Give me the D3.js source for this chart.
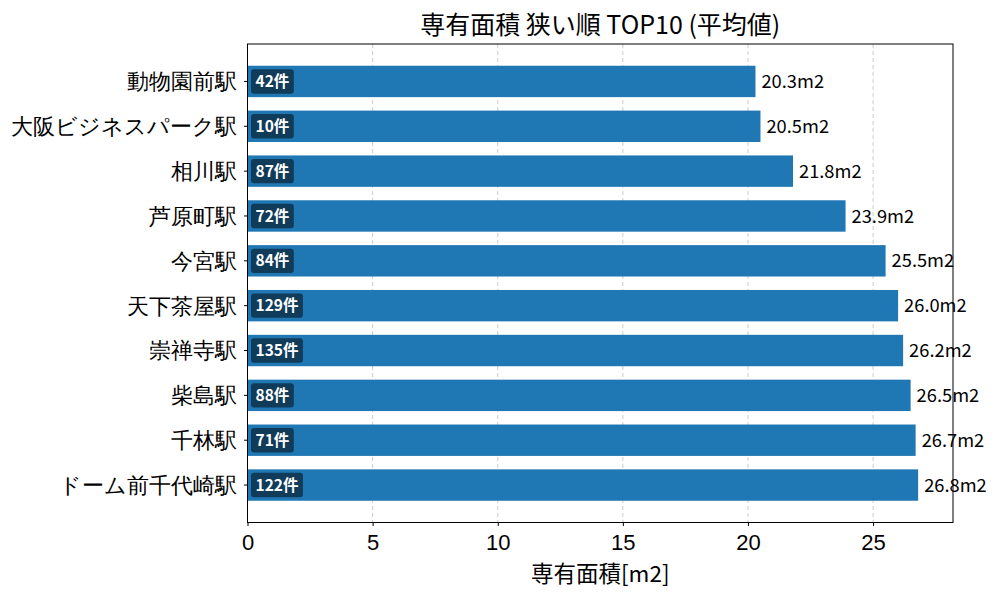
<!DOCTYPE html>
<html>
<head>
<meta charset="utf-8">
<script src="https://cdn.jsdelivr.net/npm/d3@7"></script>
<style>
  body { margin: 0; background: #fff; }
  svg { font-family: "Noto Sans CJK JP", "Noto Sans", sans-serif; }
  .grid line { stroke: #cccccc; stroke-dasharray: 4,3; stroke-width: 1; }
  .axis path, .axis line { stroke: #000; }
  .axis text { fill: #000; }
</style>
</head>
<body>
<svg width="1000" height="600"></svg>
<script>
"use strict";

const stations = ["動物園前駅", "大阪ビジネスパーク駅", "相川駅", "芦原町駅", "今宮駅",
                  "天下茶屋駅", "崇禅寺駅", "柴島駅", "千林駅", "ドーム前千代崎駅"];
const areas = [20.3, 20.5, 21.8, 23.9, 25.5, 26.0, 26.2, 26.5, 26.7, 26.8];
const counts = [42, 10, 87, 72, 84, 129, 135, 88, 71, 122];
const xTicks = [0, 5, 10, 15, 20, 25];

const titleText = "専有面積 狭い順 TOP10 (平均値)";
const xAxisTitle = "専有面積[m2]";

const margins = {top: 44, right: 47, bottom: 77.5, left: 247.5};
const width = 1000 - margins.left - margins.right;
const height = 600 - margins.top - margins.bottom;

const data = stations.map((name, i) => ({name, area: areas[i], count: counts[i]}));

const svg = d3.select("svg")
  .append("g")
  .attr("transform", `translate(${margins.left}, ${margins.top})`);

const xScale = d3.scaleLinear()
  .domain([0, d3.max(areas) * 1.052])
  .range([0, width]);

const yScale = d3.scaleBand()
  .domain(stations)
  .range([0, height])
  .paddingInner(0.3)
  .paddingOuter(0.485);

// grid (behind bars)
svg.append("g")
  .attr("class", "grid")
  .selectAll("line")
  .data(xTicks.slice(1))
  .join("line")
  .attr("x1", x => xScale(x))
  .attr("x2", x => xScale(x))
  .attr("y1", 0)
  .attr("y2", height);

// bars
svg.append("g")
  .selectAll("rect")
  .data(data)
  .join("rect")
  .attr("x", 0)
  .attr("y", d => yScale(d.name))
  .attr("width", d => xScale(d.area))
  .attr("height", yScale.bandwidth())
  .attr("fill", "#1f77b4");

// value labels
svg.append("g")
  .selectAll("text")
  .data(data)
  .join("text")
  .attr("x", d => xScale(d.area) + 6)
  .attr("y", d => yScale(d.name) + yScale.bandwidth() / 2)
  .attr("dy", "0.36em")
  .attr("font-size", 18.3)
  .attr("fill", "#000")
  .text(d => `${d.area.toFixed(1)}m2`);

// count badges
const badges = svg.append("g")
  .selectAll("g")
  .data(data)
  .join("g")
  .attr("transform", d => `translate(3.5, ${yScale(d.name) + yScale.bandwidth() / 2})`);

badges.append("text")
  .attr("x", 4.5)
  .attr("dy", "0.36em")
  .attr("font-size", 15.5)
  .attr("font-weight", "bold")
  .attr("fill", "#fff")
  .text(d => `${d.count}件`);

badges.each(function () {
  const g = d3.select(this);
  const bbox = g.select("text").node().getBBox();
  g.insert("rect", "text")
    .attr("x", 0)
    .attr("y", -12.2)
    .attr("width", bbox.width + 9)
    .attr("height", 24.4)
    .attr("rx", 3)
    .attr("ry", 3)
    .attr("fill", "#103c5a");
});

// axes
const xAxis = svg.append("g")
  .attr("class", "axis")
  .attr("transform", `translate(0, ${height})`)
  .call(d3.axisBottom(xScale)
          .tickValues(xTicks)
          .tickFormat(d3.format("d"))
          .tickSize(3.5)
          .tickPadding(4)
          .tickSizeOuter(0));
xAxis.selectAll("text").attr("font-size", 22).attr("dy", "0.9em");
xAxis.select(".domain").remove();

const yAxis = svg.append("g")
  .attr("class", "axis")
  .call(d3.axisLeft(yScale)
          .tickSize(3.5)
          .tickPadding(7)
          .tickSizeOuter(0));
yAxis.selectAll("text").attr("font-size", 21.8).attr("dy", "0.36em");
yAxis.select(".domain").remove();

// frame
svg.append("rect")
  .attr("x", 0)
  .attr("y", 0)
  .attr("width", width)
  .attr("height", height)
  .attr("fill", "none")
  .attr("stroke", "#000")
  .attr("stroke-width", 1);

// titles
svg.append("text")
  .attr("x", width / 2)
  .attr("y", -10)
  .attr("text-anchor", "middle")
  .attr("font-size", 25)
  .attr("fill", "#000")
  .text(titleText);

svg.append("text")
  .attr("x", width / 2)
  .attr("y", height + 59)
  .attr("text-anchor", "middle")
  .attr("font-size", 22.5)
  .attr("fill", "#000")
  .text(xAxisTitle);
</script>
</body>
</html>
